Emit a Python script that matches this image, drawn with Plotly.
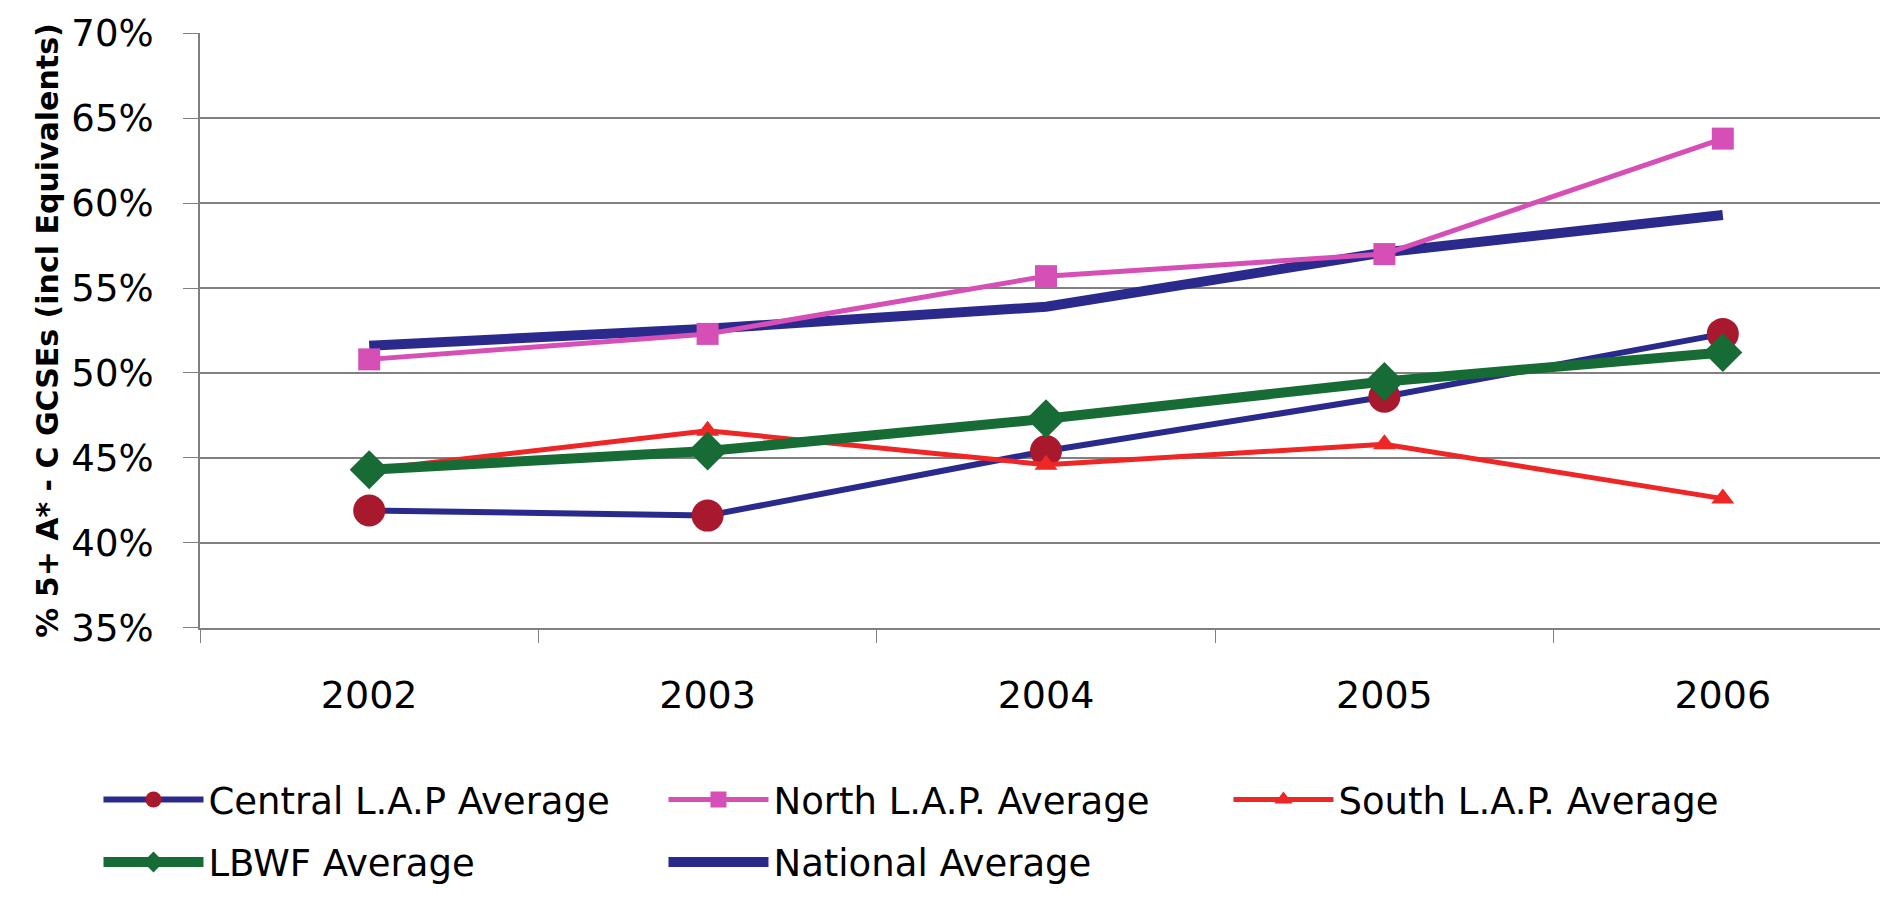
import plotly.graph_objects as go

years = ["2002", "2003", "2004", "2005", "2006"]
central = [41.9, 41.6, 45.4, 48.6, 52.3]
north = [50.8, 52.3, 55.7, 57.0, 63.8]
south = [44.3, 46.6, 44.6, 45.8, 42.6]
lbwf = [44.3, 45.4, 47.3, 49.5, 51.2]
national = [51.6, 52.6, 53.9, 57.1, 59.3]

y_ticks = [35, 40, 45, 50, 55, 60, 65, 70]
y_labels = ["35%", "40%", "45%", "50%", "55%", "60%", "65%", "70%"]

FONT = "DejaVu Sans"
NAVY = "#2a2a8c"

fig = go.Figure()
# drawing order (bottom to top); legend order set with legendrank
fig.add_trace(go.Scatter(x=years, y=national, name="National Average", mode="lines",
                         line=dict(color=NAVY, width=10), legend="legend2", legendrank=5))
fig.add_trace(go.Scatter(x=years, y=central, name="Central L.A.P Average", mode="lines+markers",
                         line=dict(color=NAVY, width=6),
                         marker=dict(symbol="circle", size=32, color="#a8192e"),
                         legend="legend", legendrank=1))
fig.add_trace(go.Scatter(x=years, y=south, name="South L.A.P. Average", mode="lines+markers",
                         line=dict(color="#ee2626", width=5),
                         marker=dict(symbol="triangle-up", size=20, color="#ee2626"),
                         legend="legend", legendrank=3))
fig.add_trace(go.Scatter(x=years, y=lbwf, name="LBWF Average", mode="lines+markers",
                         line=dict(color="#176b35", width=10),
                         marker=dict(symbol="diamond", size=30, color="#176b35"),
                         legend="legend2", legendrank=4))
fig.add_trace(go.Scatter(x=years, y=north, name="North L.A.P. Average", mode="lines+markers",
                         line=dict(color="#d64fb6", width=5),
                         marker=dict(symbol="square", size=22, color="#d64fb6"),
                         legend="legend", legendrank=2))

legend_common = dict(orientation="h", xanchor="left", yanchor="middle",
                     font=dict(family=FONT, size=37, color="black"),
                     itemwidth=100, entrywidth=450, entrywidthmode="pixels",
                     bgcolor="rgba(0,0,0,0)", traceorder="normal")

fig.update_layout(
    width=1888, height=901,
    margin=dict(l=192, r=4, t=25, b=281),
    plot_bgcolor="white", paper_bgcolor="white",
    font=dict(family=FONT, color="black"),
    showlegend=True,
    legend=dict(x=-0.06, y=-0.289, **legend_common),
    legend2=dict(x=-0.06, y=-0.394, **legend_common),
    xaxis=dict(type="category", range=[-0.5, 4.5], showgrid=False,
               showline=True, linecolor="#808080", linewidth=2,
               ticks="outside", tickson="boundaries", ticklen=13, tickcolor="#808080",
               tickfont=dict(family=FONT, size=38, color="black"),
               ticklabelstandoff=32),
    yaxis=dict(range=[34.98, 70.02], tickvals=y_ticks, ticktext=y_labels,
               showgrid=True, gridcolor="#808080", gridwidth=1.5,
               showline=True, linecolor="#808080", linewidth=2,
               ticks="outside", ticklen=15, tickcolor="#808080",
               tickfont=dict(family=FONT, size=37, color="black"),
               ticklabelstandoff=22,
               title=dict(text="<b>% 5+ A* - C GCSEs (incl Equivalents)</b>",
                          font=dict(family=FONT, size=30, color="black"), standoff=4)),
)

fig.write_html("out.html")
